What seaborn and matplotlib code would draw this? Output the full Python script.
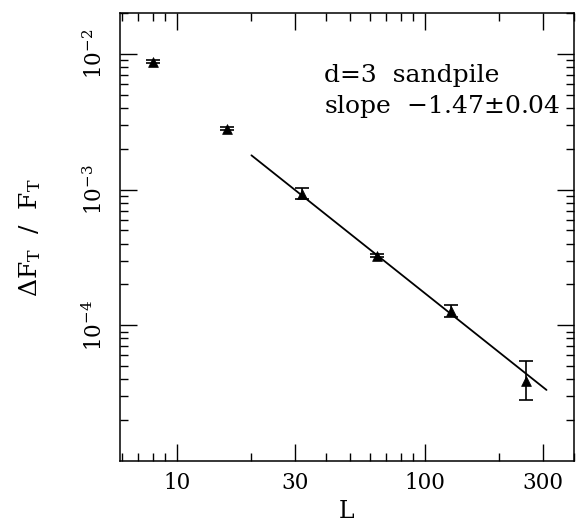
import numpy as np
import matplotlib
matplotlib.use("Agg")
import matplotlib.pyplot as plt
import matplotlib.ticker as mticker
import seaborn as sns

# system size L and relative fluctuation dF_T / F_T
L = [8, 16, 32, 64, 128, 256]
ratio = [8.75e-3, 2.80e-3, 9.3e-4, 3.27e-4, 1.28e-4, 3.9e-5]
ratio_lo = [8.55e-3, 2.73e-3, 8.5e-4, 3.17e-4, 1.16e-4, 2.8e-5]
ratio_hi = [8.95e-3, 2.87e-3, 1.02e-3, 3.37e-4, 1.40e-4, 5.5e-5]

# fitted power law, drawn between its two end points
fit_L = [20, 310]
fit_y = [1.79e-3, 3.34e-5]

x_ticks = [10, 30, 100, 300]
x_ticklabels = ["10", "30", "100", "300"]
y_ticks = [1e-4, 1e-3, 1e-2]
y_ticklabels = [r"$10^{-4}$", r"$10^{-3}$", r"$10^{-2}$"]

sns.set_style("ticks")
plt.rcParams["font.family"] = ["DejaVu Serif"]
plt.rcParams["mathtext.fontset"] = "dejavuserif"
plt.rcParams["text.color"] = "black"
plt.rcParams["axes.labelcolor"] = "black"
plt.rcParams["xtick.color"] = "black"
plt.rcParams["ytick.color"] = "black"

fig = plt.figure(figsize=(5.78, 5.23), dpi=100)
ax = fig.add_axes([0.2076, 0.1185, 0.7854, 0.8565])

ratio = np.array(ratio)
yerr = [ratio - np.array(ratio_lo), np.array(ratio_hi) - ratio]

sns.lineplot(x=fit_L, y=fit_y, ax=ax, color="black", linewidth=1.3)
ax.errorbar(L, ratio, yerr=yerr, fmt="none", ecolor="black",
            elinewidth=1.2, capsize=5, capthick=1.2)
sns.scatterplot(x=L, y=ratio, ax=ax, marker="^", s=50, color="black",
                edgecolor="black", linewidth=0.5, zorder=3)

ax.set_xscale("log")
ax.set_yscale("log")
ax.set_xlim(5.9, 400)
ax.set_ylim(1e-5, 2e-2)

ax.xaxis.set_major_locator(mticker.FixedLocator(x_ticks))
ax.xaxis.set_major_formatter(mticker.FixedFormatter(x_ticklabels))
ax.xaxis.set_minor_locator(mticker.LogLocator(base=10, subs=np.arange(2, 10)))
ax.xaxis.set_minor_formatter(mticker.NullFormatter())
ax.yaxis.set_major_locator(mticker.FixedLocator(y_ticks))
ax.yaxis.set_major_formatter(mticker.FixedFormatter(y_ticklabels))
ax.yaxis.set_minor_locator(mticker.LogLocator(base=10, subs=np.arange(2, 10)))
ax.yaxis.set_minor_formatter(mticker.NullFormatter())

ax.tick_params(which="both", direction="in", top=True, right=True,
               width=1.0, color="black")
ax.tick_params(which="major", length=12, labelsize=15.5)
ax.tick_params(which="minor", length=6)
ax.tick_params(axis="x", which="major", pad=8)
ax.tick_params(axis="y", which="major", pad=9)
for lab in ax.get_yticklabels():
    lab.set_rotation(90)
    lab.set_va("center")

for sp in ax.spines.values():
    sp.set_linewidth(1.1)
    sp.set_color("black")

ax.set_xlabel("L", fontsize=17)
ax.xaxis.set_label_coords(0.5, -0.088)
ax.set_ylabel(r"$\Delta\mathrm{F}_\mathrm{T}\ \ /\ \ \mathrm{F}_\mathrm{T}$", fontsize=18)
ax.yaxis.set_label_coords(-0.169, 0.5)

ax.text(0.45, 0.846, "d=3  sandpile", transform=ax.transAxes,
        fontsize=18, ha="left", va="baseline")
ax.text(0.45, 0.777, r"slope  $-$1.47$\pm$0.04", transform=ax.transAxes,
        fontsize=18, ha="left", va="baseline")

fig.savefig("out.png", dpi=100)
